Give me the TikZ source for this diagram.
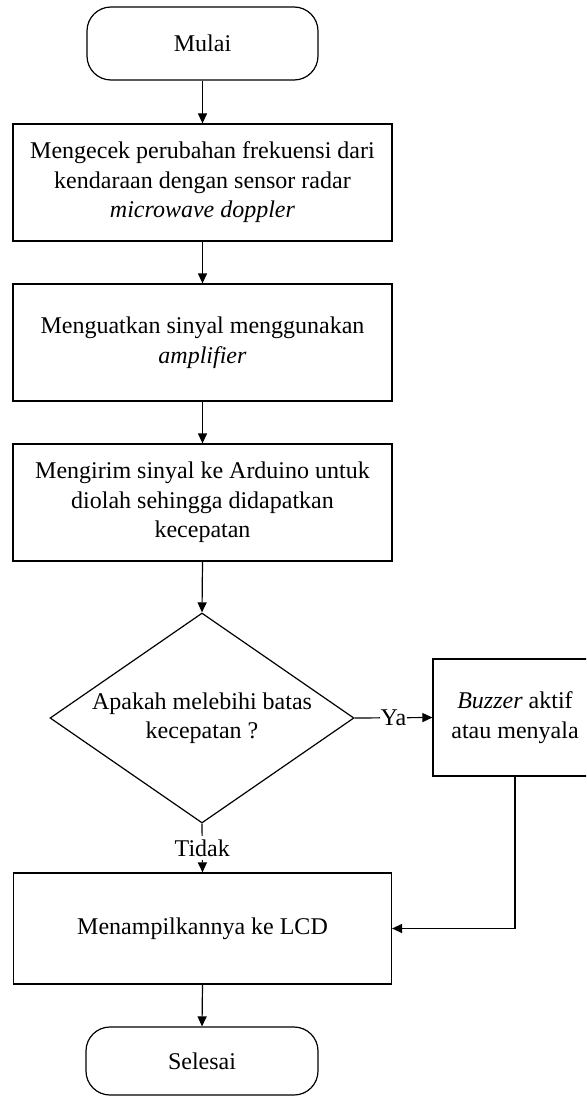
\documentclass[tikz,border=0pt]{standalone}
\usepackage{fontspec}
\setmainfont{Liberation Serif}
\usetikzlibrary{shapes.geometric,arrows.meta}
\begin{document}
\begin{tikzpicture}[x=1pt,y=-1pt,
  every node/.style={font=\fontsize{24}{29.5}\selectfont},
  box/.style={draw, line width=1.2pt, rectangle, inner sep=0pt, align=center},
  term/.style={box, rounded corners=24pt},
  decision/.style={draw, line width=1.2pt, diamond, inner sep=0pt, minimum width=304pt, minimum height=210pt},
  arr/.style={line width=1.2pt, -{Triangle[length=10pt,width=9pt]}},
  lbl/.style={fill=white, inner sep=2pt}
]
\useasboundingbox (0,0) rectangle (586,1097);
\clip (0,0) rectangle (586,1097);
\node[term, minimum width=231pt, minimum height=73pt] (start) at (202.5,43.5) {Mulai};
\node[box, minimum width=379pt, minimum height=117pt] (b1) at (202.5,182.5) {Mengecek perubahan frekuensi dari\\kendaraan dengan sensor radar\\\textit{microwave doppler}};
\node[box, minimum width=379pt, minimum height=117pt] (b2) at (202.5,342.5) {Menguatkan sinyal menggunakan\\\textit{amplifier}};
\node[box, minimum width=379pt, minimum height=117pt] (b3) at (202.5,502.5) {Mengirim sinyal ke Arduino untuk\\diolah sehingga didapatkan\\kecepatan};
\node[decision] (d) at (202,718) {};
\node[align=center] (dt) at (d.center) {Apakah melebihi batas\\kecepatan ?};
\node[box, minimum width=164pt, minimum height=117pt] (bz) at (515,717.5) {\textit{Buzzer} aktif\\atau menyala};
\node[box, minimum width=378pt, minimum height=111pt] (lcd) at (202.5,928.5) {Menampilkannya ke LCD};
\node[term, minimum width=232pt, minimum height=68pt] (end) at (202,1061) {Selesai};
\draw[arr] (start.south) -- (b1.north);
\draw[arr] (b1.south) -- (b2.north);
\draw[arr] (b2.south) -- (b3.north);
\draw[arr] (b3.south) -- (d.north);
\draw[arr] (d.east) -- node[lbl, inner sep=1pt] (ya) {Ya} (bz.west);
\draw[arr] (d.south) -- node[lbl, inner sep=4pt] (tidak) {Tidak} (lcd.north);
\draw[arr] (bz.south) |- (lcd.east);
\draw[arr] (lcd.south) -- (end.north);
\end{tikzpicture}
\end{document}
